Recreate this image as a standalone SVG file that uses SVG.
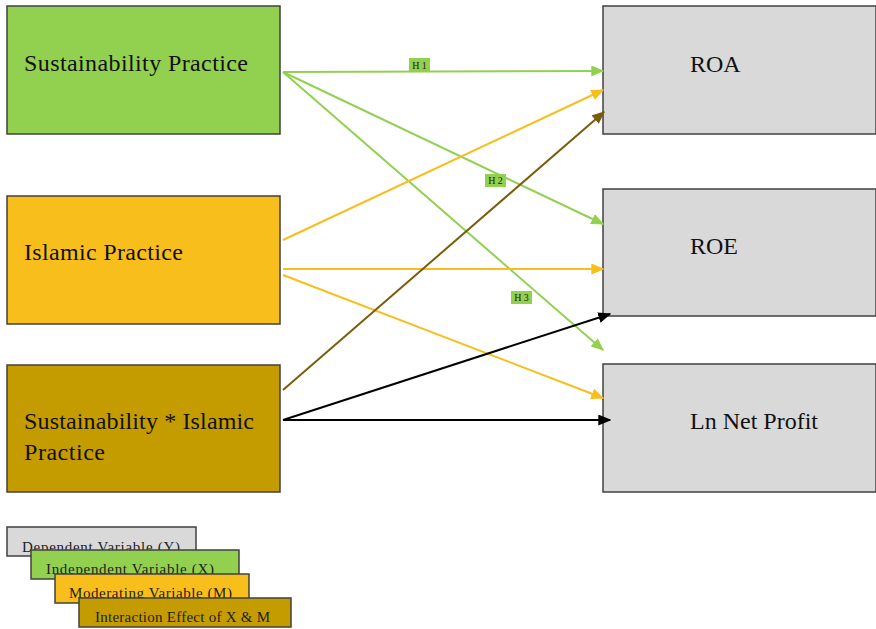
<svg xmlns="http://www.w3.org/2000/svg" width="876" height="629" viewBox="0 0 876 629">
<style>
.box{stroke:#404040;stroke-width:1.5}
.g{fill:#92d050}.y{fill:#f8be1c}.b{fill:#c59c00}.gr{fill:#d9d9d9}
.t{font-family:"Liberation Serif","DejaVu Serif",serif;font-size:24px;fill:#111}
.lt{font-family:"Liberation Serif","DejaVu Serif",serif;font-size:15px;fill:#222}
.h{font-family:"Liberation Serif","DejaVu Serif",serif;font-size:10px;fill:#222}
.c{fill:none;stroke-width:2}
</style>
<defs>
<marker id="mg" viewBox="0 0 10 10" refX="9" refY="5" markerWidth="13" markerHeight="11" preserveAspectRatio="none" orient="auto" markerUnits="userSpaceOnUse"><path d="M0,0L10,5L0,10z" fill="#92d050"/></marker>
<marker id="my" viewBox="0 0 10 10" refX="9" refY="5" markerWidth="13" markerHeight="11" preserveAspectRatio="none" orient="auto" markerUnits="userSpaceOnUse"><path d="M0,0L10,5L0,10z" fill="#f8be1c"/></marker>
<marker id="mb" viewBox="0 0 10 10" refX="9" refY="5" markerWidth="13" markerHeight="11" preserveAspectRatio="none" orient="auto" markerUnits="userSpaceOnUse"><path d="M0,0L10,5L0,10z" fill="#7a5c0a"/></marker>
<marker id="mk" viewBox="0 0 10 10" refX="9" refY="5" markerWidth="13" markerHeight="11" preserveAspectRatio="none" orient="auto" markerUnits="userSpaceOnUse"><path d="M0,0L10,5L0,10z" fill="#000"/></marker>
</defs>
<g id="sustainability"><rect x="7" y="6" width="273" height="128" class="box g"/><text x="24" y="71" class="t" textLength="224">Sustainability Practice</text></g>
<g id="islamic"><rect x="7" y="196" width="273" height="128" class="box y"/><text x="24" y="260" class="t" textLength="159">Islamic Practice</text></g>
<g id="interaction"><rect x="7" y="365" width="273" height="127" class="box b"/><text x="24" y="429" class="t" textLength="230">Sustainability * Islamic</text><text x="24" y="460" class="t" textLength="81">Practice</text></g>
<g id="roa"><rect x="603" y="6" width="273" height="128" class="box gr"/><text x="690" y="72" class="t">ROA</text></g>
<g id="roe"><rect x="603" y="189" width="273" height="127" class="box gr"/><text x="690" y="254" class="t">ROE</text></g>
<g id="lnnp"><rect x="603" y="364" width="273" height="128" class="box gr"/><text x="690" y="429" class="t" textLength="128">Ln Net Profit</text></g>
<g id="connectors">
<line class="c" x1="283" y1="72" x2="603" y2="71" stroke="#92d050" marker-end="url(#mg)"/>
<line class="c" x1="283" y1="72" x2="603" y2="224" stroke="#92d050" marker-end="url(#mg)"/>
<line class="c" x1="283" y1="72" x2="603" y2="350" stroke="#92d050" marker-end="url(#mg)"/>
<line class="c" x1="283" y1="240" x2="603" y2="90" stroke="#f8be1c" marker-end="url(#my)"/>
<line class="c" x1="283" y1="269" x2="603" y2="269" stroke="#f8be1c" marker-end="url(#my)"/>
<line class="c" x1="283" y1="275" x2="603" y2="398" stroke="#f8be1c" marker-end="url(#my)"/>
<line class="c" x1="283" y1="390" x2="604" y2="112" stroke="#7a5c0a" marker-end="url(#mb)"/>
<line class="c" x1="283" y1="420" x2="610" y2="314" stroke="#000" marker-end="url(#mk)"/>
<line class="c" x1="283" y1="420" x2="610" y2="420" stroke="#000" marker-end="url(#mk)"/>
<g id="h1"><rect x="409" y="58" width="21" height="14" class="g"/><text x="419.5" y="69" class="h" text-anchor="middle">H 1</text></g>
<g id="h2"><rect x="485" y="174" width="21" height="13" class="g"/><text x="495.5" y="184" class="h" text-anchor="middle">H 2</text></g>
<g id="h3"><rect x="511" y="291" width="21" height="13" class="g"/><text x="521.5" y="301" class="h" text-anchor="middle">H 3</text></g>
</g>
<g id="legend">
<g id="leg-y"><rect x="7" y="527" width="189" height="29" class="box gr"/><text x="22" y="552" class="lt" textLength="158">Dependent Variable (Y)</text></g>
<g id="leg-x"><rect x="31" y="550" width="208" height="29" class="box g"/><text x="46" y="574" class="lt" textLength="168">Independent Variable (X)</text></g>
<g id="leg-m"><rect x="55" y="574" width="194" height="29" class="box y"/><text x="69" y="598" class="lt" textLength="163">Moderating Variable (M)</text></g>
<g id="leg-i"><rect x="79" y="598" width="212" height="29" class="box b"/><text x="95" y="622" class="lt" textLength="175">Interaction Effect of X &amp; M</text></g>
</g>
</svg>
